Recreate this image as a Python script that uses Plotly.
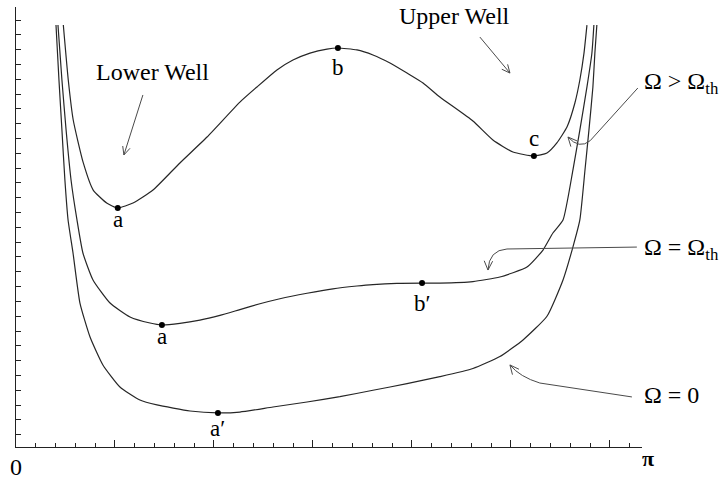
import math
import plotly.graph_objects as go

# Effective potential V(theta) on 0 < theta < pi for three rotation rates
theta_high = [0.239, 0.264, 0.289, 0.340, 0.390, 0.458, 0.514, 0.591, 0.692, 0.828,
              0.965, 1.131, 1.217, 1.318, 1.399, 1.485, 1.571, 1.626, 1.722, 1.803,
              1.889, 1.975, 2.056, 2.141, 2.308, 2.409, 2.510, 2.616, 2.682, 2.732,
              2.783, 2.823, 2.848, 2.869, 2.884]
v_high = [2.766, 2.395, 2.125, 1.835, 1.652, 1.564, 1.531, 1.564, 1.652, 1.835,
          2.010, 2.246, 2.348, 2.463, 2.530, 2.577, 2.604, 2.611, 2.598, 2.564,
          2.510, 2.442, 2.375, 2.280, 2.118, 1.990, 1.909, 1.882, 1.902, 1.970,
          2.078, 2.240, 2.395, 2.577, 2.766]

theta_th = [0.212, 0.232, 0.253, 0.278, 0.308, 0.338, 0.389, 0.475, 0.576, 0.677,
            0.737, 0.828, 0.929, 1.030, 1.131, 1.232, 1.333, 1.470, 1.601, 1.722,
            1.803, 1.924, 2.051, 2.141, 2.308, 2.444, 2.581, 2.662, 2.712, 2.763,
            2.813, 2.848, 2.884, 2.909, 2.919]
v_th = [2.766, 2.395, 2.057, 1.720, 1.450, 1.227, 1.045, 0.889, 0.795, 0.754,
        0.741, 0.752, 0.774, 0.806, 0.845, 0.884, 0.918, 0.955, 0.985, 1.004,
        1.014, 1.022, 1.024, 1.024, 1.034, 1.065, 1.132, 1.247, 1.362, 1.450,
        1.787, 2.057, 2.348, 2.577, 2.766]

theta_zero = [0.202, 0.217, 0.232, 0.247, 0.263, 0.288, 0.323, 0.374, 0.439, 0.525,
              0.626, 0.712, 0.879, 1.020, 1.131, 1.298, 1.470, 1.636, 1.803, 1.975,
              2.141, 2.308, 2.444, 2.561, 2.682, 2.763, 2.813, 2.848, 2.874, 2.894,
              2.914, 2.924, 2.934]
v_zero = [2.766, 2.395, 2.057, 1.720, 1.450, 1.227, 0.889, 0.660, 0.471, 0.322,
          0.234, 0.201, 0.160, 0.147, 0.153, 0.187, 0.221, 0.257, 0.300, 0.345,
          0.392, 0.447, 0.528, 0.640, 0.800, 1.045, 1.267, 1.450, 1.787, 2.057,
          2.348, 2.577, 2.766]

# Stationary points marked on the curves
pt_theta = [0.514, 1.626, 2.616, 0.737, 2.051, 1.020]
pt_v = [1.531, 2.611, 1.882, 0.741, 1.024, 0.147]
pt_label = ["a", "b", "c", "a", "b\u2032", "a\u2032"]
pt_yshift = [-12, -19, 17, -12, -20, -16]

X_RANGE = [0, 3.162]
Y_RANGE = [-0.083, 2.888]
PLOT_W, PLOT_H = 626, 440
SX = PLOT_W / (X_RANGE[1] - X_RANGE[0])
SY = PLOT_H / (Y_RANGE[1] - Y_RANGE[0])

SERIF = "Liberation Serif"
CURVE = "#262626"
POINTER = "#4a4a4a"

fig = go.Figure()
for th, v in [(theta_high, v_high), (theta_th, v_th), (theta_zero, v_zero)]:
    fig.add_trace(go.Scatter(x=th, y=v, mode="lines",
                             line=dict(color=CURVE, width=1.2, shape="spline", smoothing=0.5),
                             hoverinfo="skip", showlegend=False))

fig.add_trace(go.Scatter(x=pt_theta, y=pt_v, mode="markers",
                         marker=dict(color="black", size=6),
                         hoverinfo="skip", showlegend=False))

annotations = []
for x, y, t, s in zip(pt_theta, pt_v, pt_label, pt_yshift):
    annotations.append(dict(x=x, y=y, text=t, showarrow=False, yshift=s,
                            font=dict(family=SERIF, size=23, color="black")))


def head(tip, frm, length=10, spread=25):
    """Open V arrow head at tip, with the shaft arriving from frm (data coords)."""
    dx = (frm[0] - tip[0]) * SX
    dy = (frm[1] - tip[1]) * SY
    ang = math.atan2(dy, dx)
    segs = []
    for sgn in (1, -1):
        a = ang + sgn * math.radians(spread)
        segs.append((tip[0] + length * math.cos(a) / SX, tip[1] + length * math.sin(a) / SY))
    return (f"M {segs[0][0]},{segs[0][1]} L {tip[0]},{tip[1]} L {segs[1][0]},{segs[1][1]}")


shapes = []
pointer = dict(type="path", xref="x", yref="y", line=dict(color=POINTER, width=1))

# "Lower Well" and "Upper Well" arrows
for start, tip in [((0.641, 2.294), (0.545, 1.889)), ((2.343, 2.685), (2.495, 2.442))]:
    shapes.append(dict(pointer, path=f"M {start[0]},{start[1]} L {tip[0]},{tip[1]}"))
    shapes.append(dict(pointer, path=head(tip, start, 9)))

# Curved pointers from the right-hand labels to their curves
curved = [
    ((3.141, 2.341), (2.900, 1.985), (2.845, 1.925), (2.788, 2.010)),
    ((3.136, 1.267), (2.480, 1.254), (2.389, 1.247), (2.384, 1.112)),
    ((3.111, 0.255), (2.646, 0.349), (2.545, 0.390), (2.495, 0.471)),
]
for s, m, c, t in curved:
    shapes.append(dict(pointer, path=f"M {s[0]},{s[1]} L {m[0]},{m[1]} Q {c[0]},{c[1]} {t[0]},{t[1]}"))
    shapes.append(dict(pointer, path=head(t, c, 10)))

big = dict(family=SERIF, size=24, color="black")
annotations += [
    dict(x=0.69, y=2.45, text="Lower Well", showarrow=False, font=big),
    dict(x=2.217, y=2.83, text="Upper Well", showarrow=False, font=big),
    dict(x=1.0, xref="paper", y=2.375, text="\u03a9 > \u03a9<sub>th</sub>", xanchor="left",
         showarrow=False, font=big),
    dict(x=1.0, xref="paper", y=1.254, text="\u03a9 = \u03a9<sub>th</sub>", xanchor="left",
         showarrow=False, font=big),
    dict(x=1.0, xref="paper", y=0.268, text="\u03a9 = 0", xanchor="left",
         showarrow=False, font=big),
    # axis end labels, placed below the plotting area
    dict(x=0.0, xref="paper", y=0, yref="paper", xanchor="center", yanchor="middle",
         yshift=-20, text="0", showarrow=False,
         font=dict(family=SERIF, size=24, color="black")),
    dict(x=1.0095, xref="paper", y=0, yref="paper", xanchor="center", yanchor="middle",
         yshift=-11, text="<b>\u03c0</b>",
         showarrow=False, font=dict(family=SERIF, size=22, color="black")),
]

fig.update_layout(
    width=721, height=481,
    margin=dict(l=16, r=79, t=7, b=34),
    paper_bgcolor="white", plot_bgcolor="white",
    font=dict(family=SERIF),
    shapes=shapes, annotations=annotations,
    xaxis=dict(range=X_RANGE, showgrid=False, zeroline=False, showline=True,
               linecolor="#222", linewidth=1, ticks="inside", tick0=0, dtick=0.5,
               ticklen=7, tickcolor="#222", showticklabels=False,
               minor=dict(tick0=0, dtick=0.1, ticks="inside", ticklen=4, tickcolor="#222")),
    yaxis=dict(range=Y_RANGE, showgrid=False, zeroline=False, showline=True,
               linecolor="#222", linewidth=1, ticks="inside", tick0=0, dtick=0.1,
               ticklen=5, tickcolor="#222", showticklabels=False),
)

fig.write_html("out.html")
